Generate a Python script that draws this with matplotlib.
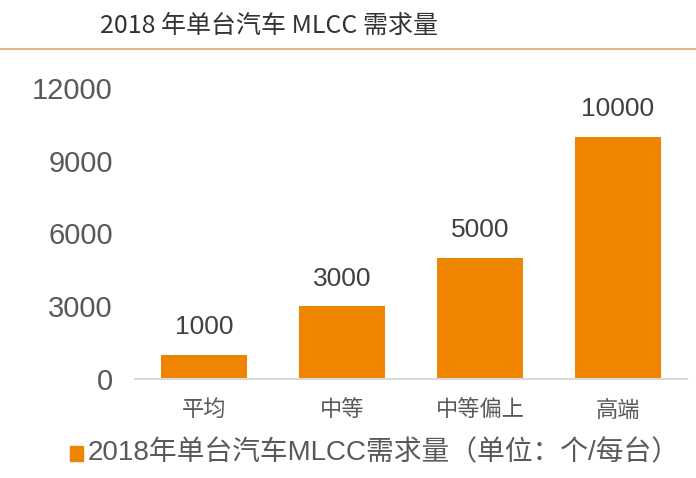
import matplotlib
matplotlib.use("Agg")
import matplotlib.pyplot as plt
from matplotlib.lines import Line2D
from matplotlib.patches import Rectangle

categories = ["平均", "中等", "中等偏上", "高端"]
values = [1000, 3000, 5000, 10000]
yticks = [0, 3000, 6000, 9000, 12000]
title = "2018 年单台汽车 MLCC 需求量"
legend_label = "2018年单台汽车MLCC需求量（单位：个/每台）"

plt.rcParams['font.family'] = ['Liberation Sans', 'Noto Sans CJK SC', 'DejaVu Sans']
cjk = ['Noto Sans CJK SC', 'DejaVu Sans']
mixed = ['Liberation Sans', 'Noto Sans CJK SC', 'DejaVu Sans']

W, H = 696, 478
fig = plt.figure(figsize=(W / 100, H / 100), dpi=100)
fig.patch.set_facecolor('white')

bar_color = '#EE8400'
text_gray = '#595959'

ax = fig.add_axes([135 / W, (H - 379) / H, (687 - 135) / W, (379 - 88) / H])
x = list(range(len(categories)))
bars = ax.bar(x, values, width=0.62, color=bar_color, zorder=2)
ax.set_xlim(-0.5, len(categories) - 0.5)
ax.set_ylim(0, 12000)
ax.set_yticks(yticks)
ax.set_yticklabels([str(v) for v in yticks], fontsize=21, color=text_gray)
ax.tick_params(axis='y', length=0, pad=16)
ax.set_xticks(x)
ax.set_xticklabels(categories, fontsize=16, color=text_gray, family=cjk)
ax.tick_params(axis='x', length=0, pad=14)
for s in ['top', 'right', 'left']:
    ax.spines[s].set_visible(False)
ax.spines['bottom'].set_color('#D9D9D9')
ax.spines['bottom'].set_linewidth(1.5)

for xi, v in zip(x, values):
    ax.annotate(str(v), (xi, v), xytext=(0, 11), textcoords='offset points',
                ha='center', va='bottom', fontsize=19, color='#404040', clip_on=False)

# Title and header line
fig.text(100 / W, 1 - 26 / H, title, fontsize=18, color='#333333', family=cjk,
         ha='left', va='center', fontweight='medium')
fig.add_artist(Line2D([0, 1], [1 - 49 / H, 1 - 49 / H], color='#E3B68A', lw=1.5,
                      transform=fig.transFigure))

# Legend
fig.add_artist(Rectangle((70 / W, 1 - 461 / H), 13 / W, 15 / H, color=bar_color,
                         transform=fig.transFigure))
fig.text(88 / W, 1 - 453 / H, legend_label, fontsize=20, color=text_gray, family=mixed,
         ha='left', va='center')

fig.savefig('out.png', dpi=100)
